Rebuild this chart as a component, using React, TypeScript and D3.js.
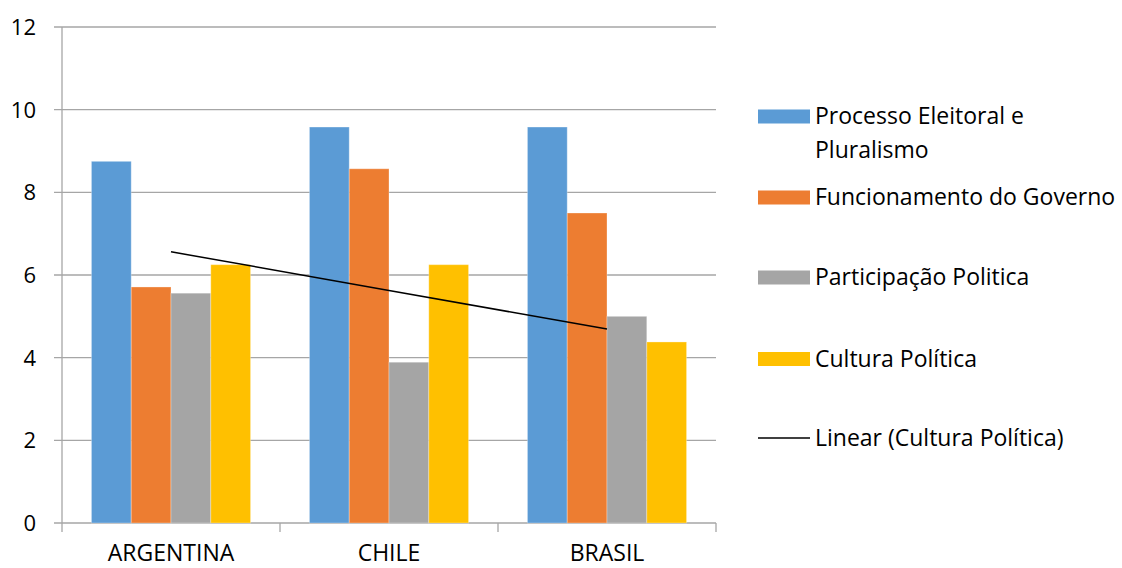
import React from "react";
import * as d3 from "d3";

const countries = ["ARGENTINA", "CHILE", "BRASIL"];
const seriesNames = [
  "Processo Eleitoral e Pluralismo",
  "Funcionamento do Governo",
  "Participação Politica",
  "Cultura Política",
];
const processoEleitoral = [8.75, 9.58, 9.58];
const funcionamentoGoverno = [5.71, 8.57, 7.5];
const participacaoPolitica = [5.56, 3.89, 5.0];
const culturaPolitica = [6.25, 6.25, 4.38];
const yTicks = [0, 2, 4, 6, 8, 10, 12];
const trendLabel = "Linear (Cultura Política)";

const colors = ["#5b9bd5", "#ed7d31", "#a5a5a5", "#ffc000"];
const font = "'Open Sans', sans-serif";

const W = 1122, H = 568;
const plot = { left: 62, right: 716, top: 27, bottom: 523 };

export default function App() {
  const seriesValues = [processoEleitoral, funcionamentoGoverno, participacaoPolitica, culturaPolitica];

  const x = d3.scaleBand().domain(countries).range([plot.left, plot.right]).padding(0);
  const bw = x.bandwidth();
  // gap width ~150% of a bar, split on both sides of the group
  const barW = bw / (seriesNames.length + 1.48);
  const gap = (bw - barW * seriesNames.length) / 2;
  const xs = d3.scaleBand<number>()
    .domain(d3.range(seriesNames.length))
    .range([gap, bw - gap])
    .padding(0);
  const y = d3.scaleLinear().domain([0, 12]).range([plot.bottom, plot.top]);

  // least squares trend for Cultura Política over category index 1..n
  const idx = culturaPolitica.map((_, i) => i + 1);
  const mx = d3.mean(idx)!;
  const my = d3.mean(culturaPolitica)!;
  const slope = d3.sum(idx, (v, i) => (v - mx) * (culturaPolitica[i] - my)) / d3.sum(idx, v => (v - mx) ** 2);
  const icpt = my - slope * mx;
  const trendPts: [number, number][] = countries.map((c, i) => [
    x(c)! + bw / 2,
    y(icpt + slope * (i + 1)),
  ]);
  const trendPath = d3.line()(trendPts) || "";

  const gridColor = "#a6a6a6";

  // legend rows
  const legendRows = [
    { lines: ["Processo Eleitoral e", "Pluralismo"], yc: 116.5, color: colors[0], kind: "rect" },
    { lines: [seriesNames[1]], yc: 197.5, color: colors[1], kind: "rect" },
    { lines: [seriesNames[2]], yc: 277.5, color: colors[2], kind: "rect" },
    { lines: [seriesNames[3]], yc: 359, color: colors[3], kind: "rect" },
    { lines: [trendLabel], yc: 438, color: "#000", kind: "line" },
  ];

  return (
    <svg width={W} height={H} style={{ position: "absolute", left: 0, top: 0, display: "block" }}
      fontFamily={font}>
      <rect width={W} height={H} fill="#fff" />
      {yTicks.map(t => (
        <g key={t}>
          <line x1={54} x2={plot.right} y1={y(t)} y2={y(t)} stroke={gridColor} strokeWidth={1.3} />
          <text x={36} y={y(t)} dy="0.36em" textAnchor="end" fontSize={22} fill="#000">{t}</text>
        </g>
      ))}
      <line x1={plot.left} x2={plot.left} y1={plot.top} y2={plot.bottom + 9} stroke={gridColor} strokeWidth={1.3} />
      {countries.map(c => (
        <line key={c} x1={x(c)! + bw} x2={x(c)! + bw} y1={plot.bottom} y2={plot.bottom + 9}
          stroke={gridColor} strokeWidth={1.3} />
      ))}
      {countries.map((c, ci) => (
        <g key={c} transform={`translate(${x(c)},0)`}>
          {seriesValues.map((vals, si) => (
            <rect key={si} x={xs(si)} y={y(vals[ci])} width={xs.bandwidth()}
              height={plot.bottom - y(vals[ci])} fill={colors[si]}
              stroke="#ffffff" strokeOpacity={0.3} strokeWidth={1} />
          ))}
          <text x={bw / 2} y={561} textAnchor="middle" fontSize={23} fill="#000">{c}</text>
        </g>
      ))}
      <path d={trendPath} fill="none" stroke="#000" strokeWidth={1.5} />
      {legendRows.map((r, i) => (
        <g key={i}>
          {r.kind === "rect" ? (
            <rect x={758} y={r.yc - 7} width={52} height={14} fill={r.color} />
          ) : (
            <line x1={758} x2={810} y1={r.yc} y2={r.yc} stroke="#000" strokeWidth={1.3} />
          )}
          {r.lines.map((ln, li) => (
            <text key={li} x={815} y={r.yc + 7.5 + li * 33.5} fontSize={23} fill="#000">{ln}</text>
          ))}
        </g>
      ))}
    </svg>
  );
}
